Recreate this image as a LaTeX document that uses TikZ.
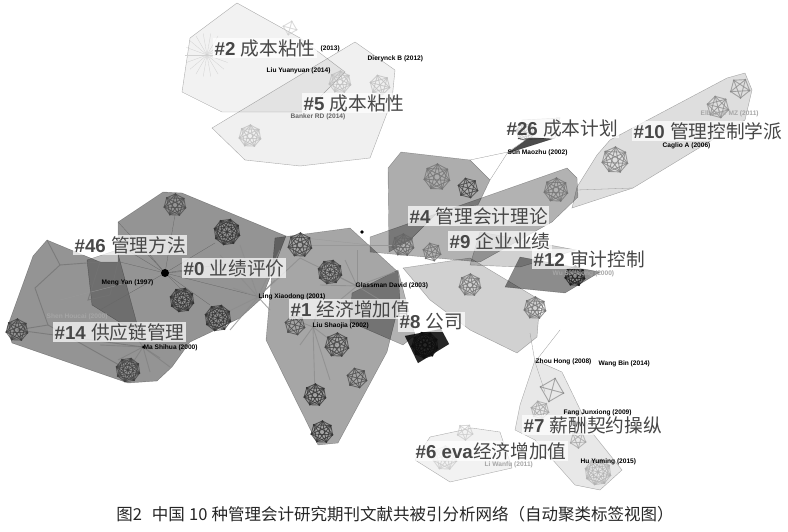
\documentclass[tikz,border=0pt]{standalone}
\usepackage{fontspec}
\setmainfont{Liberation Sans}
\newfontfamily\cjk{Noto Sans CJK SC}
\tikzset{
  hull/.style={fill=black, fill opacity=#1, draw=black, draw opacity=0.3, line width=0.4pt},
  clab/.style={fill=white, fill opacity=0.72, text opacity=1, text=black!72, inner sep=1.5pt,
    anchor=west, font=\fontsize{18.7}{19}\selectfont},
  alab/.style={anchor=west, inner sep=0.5pt, font=\fontsize{6.6}{7}\selectfont\bfseries},
  glab/.style={alab, text=black!35},
  link/.style={draw=black!40, line width=0.3pt},
  web/.style={draw=black!#1, line width=0.9pt, draw opacity=0.75},
}
% one dense group of cited papers: x, y, radius, points, shade
\newcommand{\clump}[5]{%
  \begin{scope}[shift={(#1,#2)}]
    \pgfmathsetmacro{\stp}{360/#4}
    \foreach \i in {1,...,#4}{
      \foreach \j in {\i,...,#4}{
        \draw[web=#5] (\i*\stp+15:#3) -- (\j*\stp+15:#3);
      }
    }
    \foreach \i in {1,...,#4}{\fill[black!#5] (\i*\stp+15:#3) circle (0.9);}
  \end{scope}}
\begin{document}
\begin{tikzpicture}[x=1pt,y=-1pt]
\useasboundingbox (0,0) rectangle (788,532);
\fill[white] (0,0) rectangle (788,532);

% light hulls, upper part
\filldraw[hull=0.05] (237,3) -- (300,38) -- (345,72) -- (305,112) -- (222,112) -- (182,92) -- (190,38) -- cycle;
\filldraw[hull=0.06] (212,128) -- (355,42) -- (395,70) -- (392,100) -- (370,158) -- (300,166) -- (245,160) -- cycle;
\filldraw[hull=0.06] (522,120) -- (560,118) -- (555,138) -- (520,140) -- cycle;
\filldraw[hull=0.13] (745,73) -- (752,90) -- (745,120) -- (633,188) -- (572,208) -- (577,187) -- (597,155) -- (610,140) -- (727,78) -- cycle;

% left block
\filldraw[hull=0.42] (47,240) -- (100,262) -- (118,262) -- (118,222) -- (163,192) -- (182,193) -- (286,236) -- (262,298) -- (240,318) -- (207,334) -- (190,342) -- (172,367) -- (157,381) -- (128,383) -- (12,343) -- (7,328) -- (33,256) -- cycle;
\filldraw[hull=0.25] (87,260) -- (117,250) -- (140,335) -- (92,305) -- cycle;

% middle block
\filldraw[hull=0.35] (275,238) -- (335,230) -- (350,228) -- (398,272) -- (400,300) -- (387,352) -- (338,443) -- (318,445) -- (266,340) -- cycle;
\filldraw[hull=0.3] (352,293) -- (398,270) -- (415,335) -- (403,345) -- (350,322) -- cycle;
\filldraw[hull=0.32] (401,152) -- (470,160) -- (490,180) -- (478,205) -- (440,210) -- (410,240) -- (389,252) -- (388,168) -- cycle;
\filldraw[hull=0.3] (370,237) -- (567,168) -- (577,178) -- (578,197) -- (552,222) -- (480,262) -- (370,252) -- cycle;
\filldraw[hull=0.18] (480,232) -- (576,250) -- (520,267) -- (470,265) -- cycle;
\filldraw[hull=0.18] (403,268) -- (470,258) -- (540,300) -- (537,337) -- (517,353) -- (470,330) -- (430,300) -- cycle;
\filldraw[hull=0.45] (520,257) -- (600,272) -- (565,293) -- (505,287) -- cycle;
\filldraw[hull=0.7] (530,137) -- (552,139) -- (508,153) -- cycle;
\filldraw[hull=0.85] (405,336) -- (441,329) -- (449,344) -- (418,363) -- cycle;

% lower light hulls
\filldraw[hull=0.09] (535,360) -- (562,372) -- (590,430) -- (622,470) -- (600,490) -- (575,485) -- (535,440) -- (515,430) -- (520,405) -- cycle;
\filldraw[hull=0.05] (415,460) -- (430,437) -- (472,428) -- (500,432) -- (512,468) -- (450,482) -- cycle;

% thin links between groups
\draw[link] (470,160) -- (508,152) -- (490,180);
\draw[link] (508,152) -- (530,137);
\draw[link] (577,190) -- (633,188);
\draw[link] (530,333) -- (535,362) -- (560,330);
\draw[link] (535,362) -- (545,392);
\draw[link] (286,236) -- (370,245);
\draw[link] (300,245) -- (403,245);
\draw[link] (60,300) -- (165,273);

% hubs
\coordinate (hubA) at (165,273);
\foreach \p in {(118,222),(175,215),(215,243),(182,290),(210,305),(260,297),(200,270),(150,255),(127,250),(120,262),(250,260),(100,310)}
  \draw[link, draw=black!60] (hubA) -- \p;
\fill[black] (hubA) circle (4);
\coordinate (hubB) at (258,297);
\foreach \p in {(215,318),(230,330),(280,250),(300,258),(220,255),(240,245),(275,280),(270,310),(233,288)}
  \draw[web=45] (hubB) -- \p;
\coordinate (hubC) at (357,286);
\foreach \p in {(330,272),(345,260),(300,258),(395,272),(380,300),(357,250),(340,300),(320,285)}
  \draw[web=45] (hubC) -- \p;
\fill[black] (362,232) circle (1.8);
\coordinate (hubD) at (313,327);
\foreach \p in {(295,320),(337,345),(320,300),(300,345),(330,380),(315,395)}
  \draw[web=45] (hubD) -- \p;
\coordinate (hubE) at (143,347);
\foreach \p in {(128,370),(118,360),(150,372),(160,358),(170,367),(135,335),(100,345)}
  \draw[web=50] (hubE) -- \p;
\fill[black] (hubE) circle (1.5);
\coordinate (hubF) at (207,55);
\foreach \a in {0,20,...,340}
  \draw[link, draw=black!18] (hubF) -- ++(\a:22);

% chains in cluster 14
\draw[web=55] (47,240) -- (60,265) -- (35,288) -- (48,325) -- (17,330);
\draw[web=55] (60,265) -- (100,262) -- (88,300) -- (110,295) -- (118,262);
\draw[web=55] (48,325) -- (128,370);
\draw[web=55] (17,330) -- (143,347);

% dense groups
\clump{175}{205}{11}{7}{70}
\clump{227}{232}{13}{8}{80}
\clump{182}{300}{12}{8}{80}
\clump{218}{318}{13}{8}{80}
\clump{17}{330}{11}{7}{75}
\clump{128}{370}{12}{8}{75}
\clump{300}{245}{12}{7}{75}
\clump{330}{272}{12}{8}{75}
\clump{295}{325}{10}{6}{70}
\clump{337}{345}{12}{7}{75}
\clump{357}{378}{10}{6}{70}
\clump{315}{395}{11}{7}{80}
\clump{322}{432}{11}{7}{80}
\clump{437}{177}{13}{7}{55}
\clump{468}{188}{10}{6}{75}
\clump{556}{190}{12}{7}{55}
\clump{403}{245}{11}{7}{60}
\clump{432}{252}{9}{6}{55}
\clump{470}{285}{11}{7}{55}
\clump{535}{308}{11}{7}{55}
\clump{575}{276}{10}{7}{90}
\clump{425}{345}{13}{9}{95}
\clump{525}{132}{9}{6}{70}
\clump{615}{160}{13}{7}{50}
\clump{718}{107}{11}{6}{45}
\clump{740}{88}{10}{5}{45}
\clump{250}{136}{11}{7}{25}
\clump{340}{82}{11}{7}{25}
\clump{380}{85}{10}{6}{25}
\clump{290}{28}{7}{4}{18}
\clump{552}{390}{12}{4}{45}
\clump{540}{410}{9}{6}{35}
\clump{598}{472}{13}{8}{30}
\clump{578}{440}{8}{5}{35}
\clump{465}{432}{8}{5}{20}
\clump{445}{458}{12}{7}{20}

% cluster labels
\node[clab] (c2) at (213,48) {\textbf{\#2} {\cjk 成本粘性}};
\node[clab] (c5) at (302,103) {\textbf{\#5} {\cjk 成本粘性}};
\node[clab] (c26) at (505,128) {\textbf{\#26} {\cjk 成本计划}};
\node[clab] (c10) at (632,131) {\textbf{\#10} {\cjk 管理控制学派}};
\node[clab] (c4) at (408,216) {\textbf{\#4} {\cjk 管理会计理论}};
\node[clab] (c9) at (448,241) {\textbf{\#9} {\cjk 企业业绩}};
\node[clab] (c12) at (532,259) {\textbf{\#12} {\cjk 审计控制}};
\node[clab] (c46) at (73,245) {\textbf{\#46} {\cjk 管理方法}};
\node[clab] (c0) at (182,268) {\textbf{\#0} {\cjk 业绩评价}};
\node[clab] (c1) at (289,309) {\textbf{\#1} {\cjk 经济增加值}};
\node[clab] (c8) at (398,322) {\textbf{\#8} {\cjk 公司}};
\node[clab] (c14) at (53,332) {\textbf{\#14} {\cjk 供应链管理}};
\node[clab] (c7) at (522,425) {\textbf{\#7} {\cjk 薪酬契约操纵}};
\node[clab] (c6) at (414,451) {\textbf{\#6 eva}{\cjk 经济增加值}};

% cited authors
\node[alab] (a1) at (320,49) {(2013)};
\node[alab] (a2) at (367,59) {Dierynck B (2012)};
\node[alab] (a3) at (266,71) {Liu Yuanyuan (2014)};
\node[alab, text=black!60] (a4) at (290,117) {Banker RD (2014)};
\node[alab] (a5) at (507,153) {Sun Maozhu (2002)};
\node[alab] (a6) at (662,146) {Caglio A (2006)};
\node[glab] (a7) at (700,114) {Elbashir MZ (2011)};
\node[alab] (a8) at (101,283) {Meng Yan (1997)};
\node[alab] (a9) at (258,297) {Ling Xiaodong (2001)};
\node[alab] (a10) at (355,286) {Glassman David (2003)};
\node[alab] (a11) at (312,326) {Liu Shaojia (2002)};
\node[glab] (a12) at (46,317) {Shen Houcai (2000)};
\node[alab] (a13) at (143,348) {Ma Shihua (2000)};
\node[glab] (a14) at (552,274) {Wu Shuqong (2000)};
\node[alab] (a15) at (535,362) {Zhou Hong (2008)};
\node[alab] (a16) at (598,364) {Wang Bin (2014)};
\node[alab] (a17) at (563,413) {Fang Junxiong (2009)};
\node[alab] (a18) at (580,462) {Hu Yuming (2015)};
\node[glab] (a19) at (484,465) {Li Wanfu (2011)};

% caption
\node[font=\cjk\fontsize{16.5}{17}\selectfont, text=black!85] (cap) at (395,514)
  {图2\hspace{0.6em}中国\hspace{0.25em}10\hspace{0.25em}种管理会计研究期刊文献共被引分析网络（自动聚类标签视图）};
\end{tikzpicture}
\end{document}
